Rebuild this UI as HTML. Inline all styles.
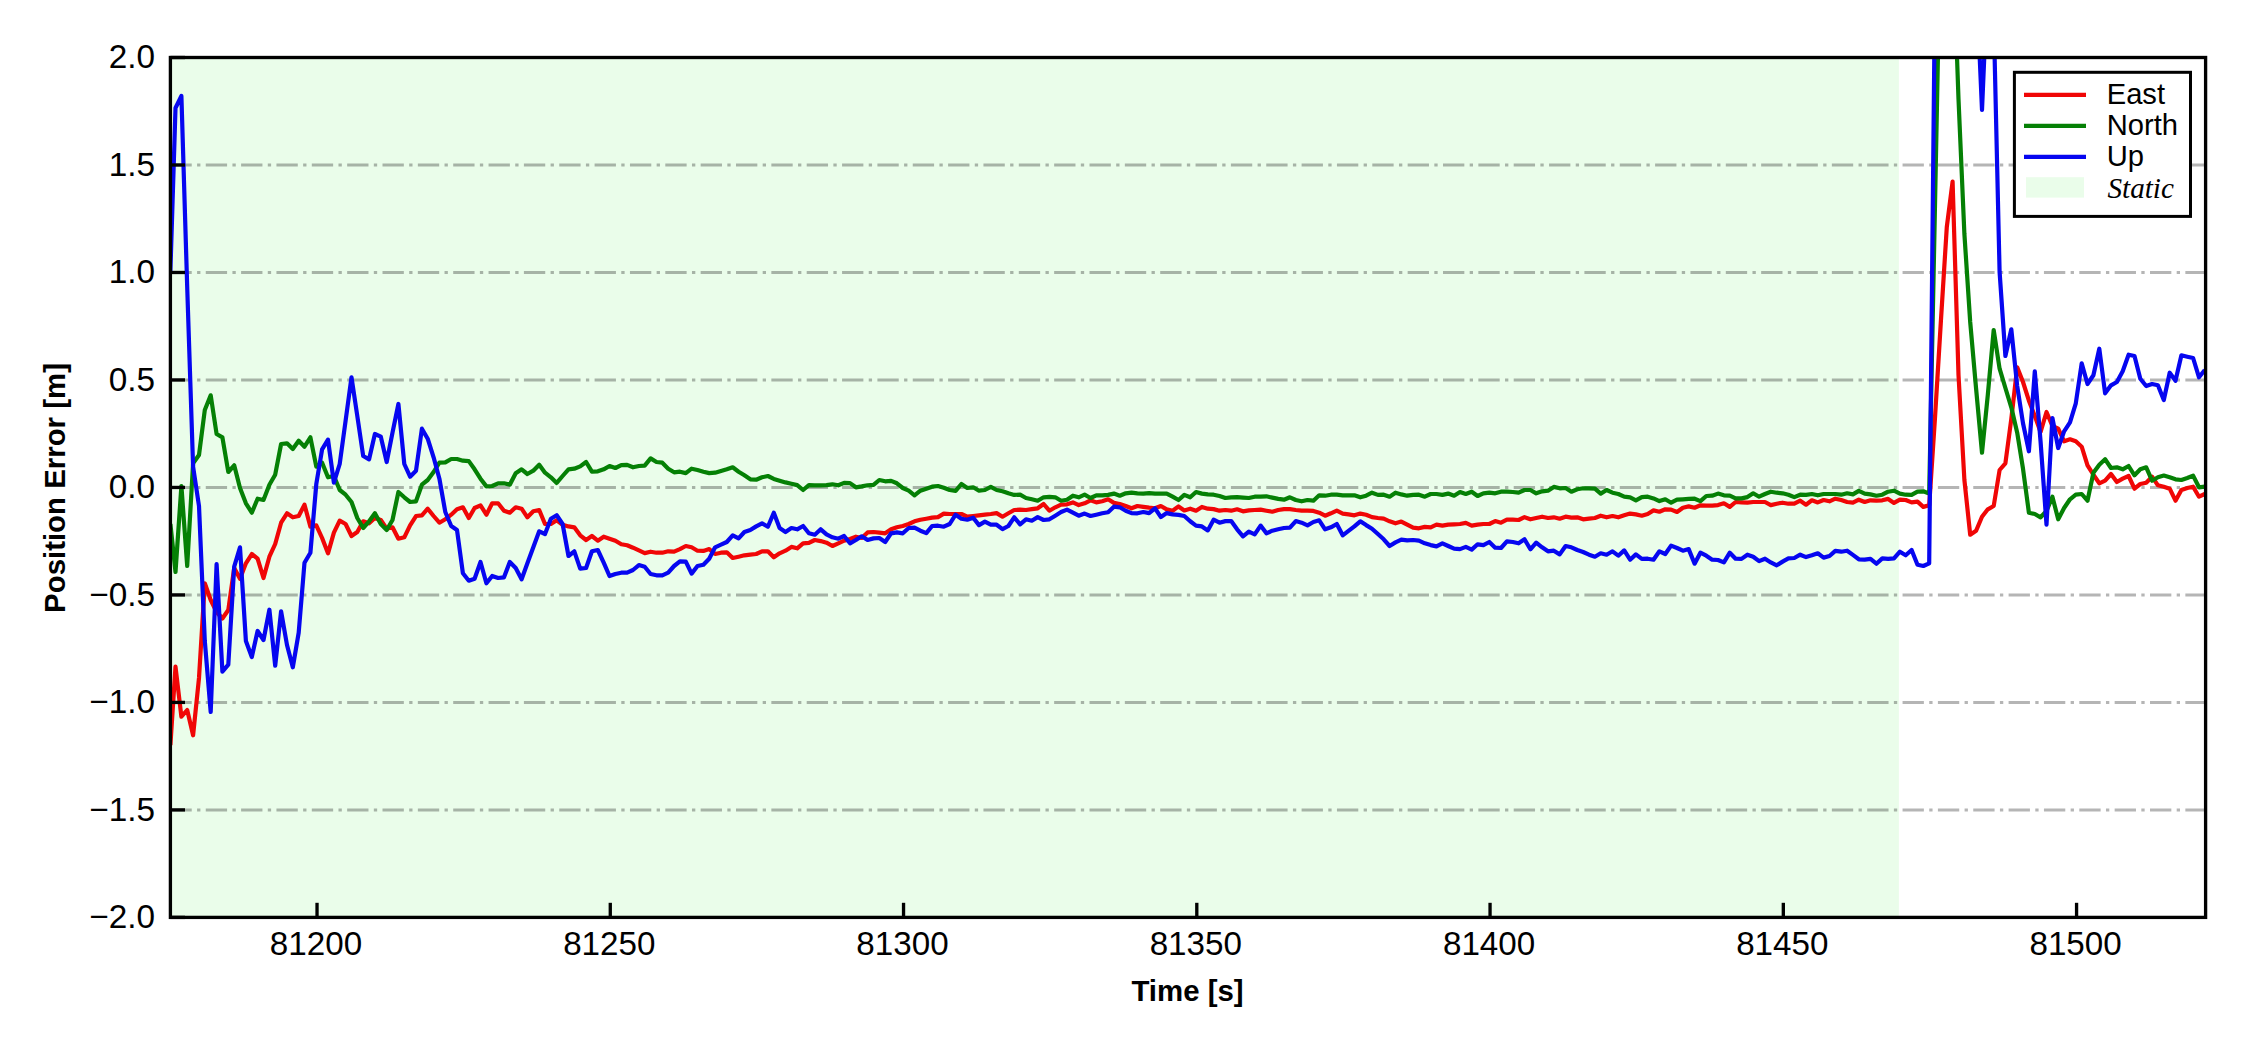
<!DOCTYPE html><html><head><meta charset="utf-8"><title>Position Error</title>
<style>html,body{margin:0;padding:0;background:#fff}svg{display:block}text{font-family:"Liberation Sans",sans-serif;fill:#000}.b{font-weight:bold}.s{font-family:"Liberation Serif",serif;font-style:italic}</style></head><body>
<svg width="2250" height="1050" viewBox="0 0 2250 1050">
<rect width="2250" height="1050" fill="#fff"/>
<defs><clipPath id="c"><rect x="170.4" y="57.5" width="2035.2" height="859.9"/></clipPath></defs>
<rect x="170.4" y="57.5" width="1728.5" height="859.9" fill="#eafdea"/>
<line x1="170.4" y1="809.91" x2="2205.6" y2="809.91" stroke="#000" stroke-opacity="0.29" stroke-width="3.00" stroke-dasharray="21.34 5.34 3.33 5.34"/>
<line x1="170.4" y1="702.42" x2="2205.6" y2="702.42" stroke="#000" stroke-opacity="0.29" stroke-width="3.00" stroke-dasharray="21.34 5.34 3.33 5.34"/>
<line x1="170.4" y1="594.94" x2="2205.6" y2="594.94" stroke="#000" stroke-opacity="0.29" stroke-width="3.00" stroke-dasharray="21.34 5.34 3.33 5.34"/>
<line x1="170.4" y1="487.45" x2="2205.6" y2="487.45" stroke="#000" stroke-opacity="0.29" stroke-width="3.00" stroke-dasharray="21.34 5.34 3.33 5.34"/>
<line x1="170.4" y1="379.96" x2="2205.6" y2="379.96" stroke="#000" stroke-opacity="0.29" stroke-width="3.00" stroke-dasharray="21.34 5.34 3.33 5.34"/>
<line x1="170.4" y1="272.48" x2="2205.6" y2="272.48" stroke="#000" stroke-opacity="0.29" stroke-width="3.00" stroke-dasharray="21.34 5.34 3.33 5.34"/>
<line x1="170.4" y1="164.99" x2="2205.6" y2="164.99" stroke="#000" stroke-opacity="0.29" stroke-width="3.00" stroke-dasharray="21.34 5.34 3.33 5.34"/>
<g clip-path="url(#c)">
<polyline points="170.4,745.0 175.5,666.7 181.4,716.7 187.2,710.0 193.1,735.3 199.0,678.0 204.8,583.3 210.7,600.0 216.6,612.0 222.4,618.5 228.3,610.0 234.2,568.0 240.0,578.7 245.9,563.3 251.8,554.0 257.6,558.7 263.5,578.0 269.4,556.7 275.2,544.0 281.1,522.7 287.0,513.3 292.8,517.3 298.7,516.0 304.5,504.7 310.4,526.7 316.3,525.3 322.1,538.0 328.0,553.3 333.9,532.7 339.7,520.7 345.6,524.0 351.5,536.0 357.3,532.0 363.2,521.3 369.1,523.3 374.9,518.0 380.8,520.0 386.7,528.7 392.5,527.3 398.4,538.7 404.3,537.3 410.1,525.3 416.0,516.0 421.9,515.3 427.7,508.7 433.6,516.0 439.4,522.7 445.3,519.3 451.2,514.7 457.0,509.3 462.9,507.3 468.8,518.0 474.6,508.0 480.5,505.3 486.4,514.7 492.2,503.3 498.1,503.3 504.0,510.7 509.8,512.7 515.7,507.3 521.6,508.7 527.4,517.3 533.3,511.3 539.2,510.0 545.0,524.0 550.9,524.0 556.7,520.3 562.6,524.7 568.5,526.4 574.3,527.3 580.2,535.3 586.1,540.0 591.9,536.0 597.8,540.7 603.7,536.7 609.5,538.7 615.4,540.7 621.3,544.3 627.1,545.3 633.0,547.7 638.9,550.4 644.7,553.1 650.6,551.7 656.5,552.7 662.3,552.7 668.2,551.3 674.1,551.7 679.9,549.1 685.8,546.0 691.6,547.3 697.5,550.7 703.4,550.9 709.2,549.1 715.1,554.0 721.0,552.7 726.8,552.3 732.7,558.0 738.6,556.7 744.4,555.3 750.3,554.7 756.2,554.0 762.0,551.3 767.9,551.3 773.8,557.3 779.6,553.3 785.5,550.7 791.4,546.9 797.2,548.3 803.1,543.3 808.9,542.9 814.8,540.0 820.7,541.1 826.5,542.7 832.4,546.0 838.3,543.3 844.1,540.7 850.0,538.9 855.9,536.7 861.7,538.0 867.6,532.4 873.5,532.0 879.3,532.7 885.2,533.3 891.1,529.3 896.9,527.3 902.8,526.0 908.7,524.0 914.5,521.3 920.4,519.7 926.3,518.7 932.1,517.6 938.0,517.1 943.8,513.6 949.7,514.0 955.6,514.0 961.4,514.0 967.3,516.7 973.2,516.0 979.0,515.3 984.9,514.7 990.8,514.0 996.6,513.1 1002.5,516.7 1008.4,513.3 1014.2,510.0 1020.1,509.7 1026.0,510.0 1031.8,509.1 1037.7,508.3 1043.6,504.0 1049.4,510.7 1055.3,507.3 1061.1,504.7 1067.0,504.3 1072.9,502.4 1078.7,505.1 1084.6,503.3 1090.5,500.3 1096.3,502.4 1102.2,501.3 1108.1,499.3 1113.9,502.9 1119.8,504.0 1125.7,506.0 1131.5,508.3 1137.4,506.0 1143.3,506.9 1149.1,507.7 1155.0,508.3 1160.9,506.0 1166.7,509.3 1172.6,510.7 1178.5,506.4 1184.3,510.4 1190.2,508.7 1196.0,510.7 1201.9,506.9 1207.8,508.7 1213.6,509.1 1219.5,510.7 1225.4,510.0 1231.2,510.7 1237.1,509.3 1243.0,511.3 1248.8,510.4 1254.7,510.0 1260.6,509.6 1266.4,510.7 1272.3,511.7 1278.2,510.0 1284.0,509.1 1289.9,509.1 1295.8,510.0 1301.6,510.7 1307.5,510.7 1313.4,510.9 1319.2,512.7 1325.1,515.7 1330.9,513.3 1336.8,510.7 1342.7,513.6 1348.5,514.4 1354.4,515.3 1360.3,513.6 1366.1,514.7 1372.0,517.1 1377.9,518.0 1383.7,518.7 1389.6,521.3 1395.5,523.3 1401.3,521.6 1407.2,524.7 1413.1,527.7 1418.9,528.3 1424.8,526.9 1430.7,527.3 1436.5,524.7 1442.4,525.6 1448.2,524.7 1454.1,524.3 1460.0,524.0 1465.8,522.9 1471.7,525.6 1477.6,524.7 1483.4,524.0 1489.3,524.0 1495.2,521.1 1501.0,522.7 1506.9,519.7 1512.8,519.7 1518.6,520.0 1524.5,517.1 1530.4,519.3 1536.2,518.0 1542.1,516.7 1548.0,518.0 1553.8,517.3 1559.7,518.7 1565.6,516.7 1571.4,517.6 1577.3,517.3 1583.1,519.3 1589.0,518.7 1594.9,518.0 1600.7,515.7 1606.6,517.3 1612.5,516.0 1618.3,517.3 1624.2,515.3 1630.1,513.6 1635.9,514.4 1641.8,515.7 1647.7,514.0 1653.5,510.4 1659.4,511.7 1665.3,509.3 1671.1,509.6 1677.0,512.0 1682.9,507.7 1688.7,506.4 1694.6,507.7 1700.4,505.3 1706.3,505.6 1712.2,505.6 1718.0,505.1 1723.9,503.3 1729.8,506.9 1735.6,502.0 1741.5,502.4 1747.4,502.7 1753.2,502.0 1759.1,502.0 1765.0,502.0 1770.8,505.1 1776.7,503.7 1782.6,502.7 1788.4,503.7 1794.3,503.7 1800.2,500.7 1806.0,504.7 1811.9,500.3 1817.8,502.4 1823.6,500.0 1829.5,501.3 1835.3,498.7 1841.2,500.0 1847.1,502.0 1852.9,502.7 1858.8,499.7 1864.7,502.0 1870.5,500.3 1876.4,500.7 1882.3,500.3 1888.1,498.9 1894.0,502.9 1899.9,499.7 1905.7,500.0 1911.6,502.4 1917.5,501.6 1923.3,506.9 1929.2,505.3 1935.1,416.0 1940.9,321.0 1946.8,227.0 1952.6,181.5 1958.5,375.0 1964.4,480.0 1970.2,534.7 1976.1,530.7 1982.0,516.7 1987.8,509.3 1993.7,506.0 1999.6,470.0 2005.4,463.3 2011.3,419.0 2017.2,367.3 2023.0,382.0 2028.9,400.7 2034.8,416.0 2040.6,432.0 2046.5,412.0 2052.4,426.0 2058.2,428.7 2064.1,441.3 2070.0,439.3 2075.8,441.3 2081.7,446.7 2087.5,465.3 2093.4,474.7 2099.3,483.3 2105.1,480.7 2111.0,474.0 2116.9,482.0 2122.7,478.7 2128.6,476.0 2134.5,488.7 2140.3,484.0 2146.2,482.7 2152.1,476.7 2157.9,485.3 2163.8,486.7 2169.7,488.7 2175.5,500.7 2181.4,490.0 2187.3,488.0 2193.1,486.7 2199.0,496.7 2204.8,494.0" fill="none" stroke="#f00606" stroke-width="4.2" stroke-linejoin="round" stroke-linecap="butt"/>
<polyline points="170.4,524.0 175.5,572.0 181.4,486.0 187.2,566.0 193.1,463.3 199.0,455.0 204.8,410.0 210.7,395.3 216.6,434.0 222.4,437.3 228.3,472.0 234.2,465.3 240.0,488.0 245.9,503.3 251.8,512.7 257.6,498.7 263.5,500.0 269.4,484.7 275.2,474.7 281.1,444.0 287.0,443.3 292.8,449.0 298.7,440.7 304.5,446.7 310.4,437.3 316.3,466.7 322.1,462.7 328.0,477.3 333.9,476.0 339.7,490.0 345.6,494.7 351.5,502.0 357.3,518.0 363.2,528.0 369.1,521.3 374.9,513.3 380.8,524.0 386.7,530.0 392.5,520.0 398.4,492.0 404.3,497.3 410.1,502.0 416.0,501.3 421.9,484.7 427.7,480.0 433.6,472.0 439.4,462.7 445.3,462.4 451.2,459.0 457.0,459.0 462.9,460.7 468.8,461.1 474.6,469.3 480.5,478.7 486.4,486.4 492.2,486.0 498.1,483.3 504.0,483.3 509.8,484.7 515.7,473.3 521.6,469.3 527.4,474.0 533.3,470.7 539.2,464.7 545.0,472.7 550.9,477.3 556.7,482.9 562.6,476.0 568.5,469.3 574.3,468.7 580.2,466.4 586.1,462.0 591.9,471.7 597.8,471.3 603.7,469.3 609.5,466.0 615.4,468.0 621.3,465.1 627.1,464.9 633.0,467.3 638.9,466.0 644.7,465.6 650.6,458.4 656.5,462.0 662.3,462.7 668.2,468.7 674.1,472.3 679.9,471.7 685.8,473.1 691.6,468.7 697.5,470.0 703.4,471.7 709.2,473.1 715.1,472.7 721.0,470.9 726.8,469.3 732.7,467.3 738.6,471.7 744.4,475.3 750.3,479.3 756.2,479.7 762.0,477.3 767.9,476.0 773.8,478.9 779.6,480.7 785.5,482.4 791.4,483.7 797.2,485.1 803.1,490.0 808.9,485.1 814.8,485.3 820.7,485.3 826.5,485.1 832.4,484.3 838.3,485.3 844.1,482.9 850.0,483.1 855.9,487.3 861.7,486.4 867.6,485.3 873.5,484.9 879.3,480.0 885.2,481.3 891.1,480.9 896.9,483.3 902.8,488.0 908.7,490.7 914.5,495.3 920.4,490.7 926.3,488.7 932.1,486.7 938.0,486.0 943.8,487.7 949.7,490.0 955.6,490.9 961.4,484.0 967.3,488.0 973.2,487.3 979.0,490.7 984.9,490.0 990.8,486.9 996.6,490.0 1002.5,491.3 1008.4,493.3 1014.2,494.9 1020.1,494.7 1026.0,498.0 1031.8,499.3 1037.7,500.7 1043.6,497.3 1049.4,496.9 1055.3,497.3 1061.1,500.7 1067.0,499.7 1072.9,495.7 1078.7,497.3 1084.6,494.7 1090.5,498.0 1096.3,495.3 1102.2,495.3 1108.1,494.9 1113.9,493.6 1119.8,495.7 1125.7,493.3 1131.5,492.7 1137.4,493.3 1143.3,493.6 1149.1,493.1 1155.0,493.6 1160.9,493.6 1166.7,493.6 1172.6,496.7 1178.5,500.0 1184.3,494.9 1190.2,497.3 1196.0,492.0 1201.9,493.6 1207.8,494.4 1213.6,494.7 1219.5,496.0 1225.4,498.0 1231.2,497.3 1237.1,497.1 1243.0,497.6 1248.8,498.0 1254.7,496.7 1260.6,496.7 1266.4,496.3 1272.3,497.6 1278.2,498.9 1284.0,499.7 1289.9,497.3 1295.8,500.0 1301.6,501.3 1307.5,500.0 1313.4,500.7 1319.2,495.3 1325.1,495.7 1330.9,494.7 1336.8,494.7 1342.7,495.3 1348.5,495.3 1354.4,495.3 1360.3,497.3 1366.1,495.7 1372.0,492.7 1377.9,494.9 1383.7,494.7 1389.6,496.7 1395.5,492.7 1401.3,494.4 1407.2,495.7 1413.1,494.9 1418.9,494.7 1424.8,496.7 1430.7,494.0 1436.5,494.0 1442.4,494.9 1448.2,493.6 1454.1,495.7 1460.0,492.0 1465.8,494.0 1471.7,491.7 1477.6,496.0 1483.4,493.3 1489.3,492.7 1495.2,493.3 1501.0,491.7 1506.9,491.7 1512.8,492.0 1518.6,492.7 1524.5,490.0 1530.4,490.0 1536.2,493.3 1542.1,491.3 1548.0,490.7 1553.8,486.9 1559.7,488.3 1565.6,488.0 1571.4,491.7 1577.3,489.3 1583.1,488.3 1589.0,488.3 1594.9,488.7 1600.7,493.6 1606.6,490.0 1612.5,492.7 1618.3,494.0 1624.2,496.7 1630.1,497.3 1635.9,500.3 1641.8,497.1 1647.7,496.7 1653.5,498.4 1659.4,501.1 1665.3,499.3 1671.1,502.7 1677.0,499.7 1682.9,499.3 1688.7,498.9 1694.6,498.7 1700.4,501.1 1706.3,496.0 1712.2,495.7 1718.0,493.6 1723.9,495.3 1729.8,495.7 1735.6,498.4 1741.5,498.4 1747.4,497.1 1753.2,493.3 1759.1,496.7 1765.0,494.0 1770.8,491.7 1776.7,492.7 1782.6,493.3 1788.4,494.7 1794.3,497.1 1800.2,494.7 1806.0,494.9 1811.9,494.0 1817.8,495.3 1823.6,494.0 1829.5,494.0 1835.3,494.0 1841.2,494.7 1847.1,493.3 1852.9,494.4 1858.8,490.9 1864.7,493.6 1870.5,494.4 1876.4,495.7 1882.3,494.7 1888.1,491.7 1894.0,490.7 1899.9,493.6 1905.7,494.7 1911.6,494.9 1917.5,491.7 1923.3,491.3 1929.2,493.6 1935.1,200.0 1940.9,-93.0 1946.8,-70.0 1952.6,-67.0 1958.5,99.0 1964.4,234.0 1970.2,322.0 1976.1,388.7 1982.0,452.7 1987.8,395.0 1993.7,330.0 1999.6,368.7 2005.4,388.0 2011.3,407.3 2017.2,432.7 2023.0,468.7 2028.9,512.7 2034.8,514.0 2040.6,517.3 2046.5,511.0 2052.4,496.7 2058.2,519.3 2064.1,508.0 2070.0,499.3 2075.8,494.7 2081.7,494.0 2087.5,500.7 2093.4,472.7 2099.3,464.7 2105.1,459.3 2111.0,468.0 2116.9,467.3 2122.7,469.3 2128.6,466.0 2134.5,475.3 2140.3,469.3 2146.2,467.3 2152.1,480.7 2157.9,477.3 2163.8,475.6 2169.7,477.3 2175.5,479.3 2181.4,480.0 2187.3,478.0 2193.1,475.6 2199.0,487.3 2204.8,486.7" fill="none" stroke="#058005" stroke-width="4.2" stroke-linejoin="round" stroke-linecap="butt"/>
<polyline points="170.4,271.0 175.5,108.0 181.4,96.0 187.2,287.0 193.1,466.7 199.0,506.0 204.8,641.0 210.7,712.0 216.6,564.0 222.4,671.6 228.3,664.7 234.2,566.7 240.0,547.3 245.9,641.0 251.8,657.0 257.6,631.0 263.5,640.0 269.4,609.7 275.2,665.7 281.1,611.3 287.0,645.0 292.8,667.3 298.7,632.7 304.5,562.7 310.4,552.7 316.3,484.0 322.1,449.3 328.0,439.6 333.9,482.7 339.7,464.0 345.6,420.7 351.5,377.3 357.3,416.0 363.2,456.0 369.1,459.3 374.9,434.0 380.8,436.7 386.7,462.0 392.5,432.7 398.4,404.0 404.3,464.0 410.1,476.7 416.0,470.7 421.9,428.7 427.7,438.7 433.6,457.3 439.4,478.7 445.3,512.0 451.2,526.0 457.0,530.0 462.9,573.3 468.8,580.7 474.6,578.7 480.5,562.0 486.4,583.3 492.2,576.0 498.1,578.0 504.0,577.3 509.8,562.0 515.7,568.0 521.6,579.3 527.4,563.3 533.3,547.3 539.2,531.3 545.0,534.0 550.9,518.7 556.7,515.3 562.6,524.0 568.5,556.0 574.3,551.3 580.2,568.7 586.1,568.0 591.9,551.3 597.8,550.0 603.7,562.7 609.5,576.0 615.4,574.0 621.3,572.7 627.1,572.7 633.0,570.0 638.9,565.1 644.7,566.7 650.6,574.0 656.5,575.3 662.3,575.3 668.2,572.7 674.1,566.0 679.9,561.3 685.8,561.6 691.6,573.6 697.5,566.0 703.4,564.7 709.2,558.7 715.1,547.3 721.0,544.7 726.8,542.0 732.7,535.3 738.6,538.4 744.4,532.0 750.3,530.0 756.2,526.4 762.0,523.3 767.9,526.7 773.8,512.7 779.6,528.0 785.5,532.0 791.4,528.0 797.2,529.3 803.1,526.0 808.9,533.3 814.8,534.7 820.7,529.3 826.5,534.4 832.4,537.3 838.3,538.7 844.1,536.0 850.0,543.3 855.9,540.0 861.7,536.3 867.6,540.0 873.5,538.4 879.3,538.0 885.2,542.0 891.1,533.3 896.9,532.4 902.8,533.3 908.7,528.0 914.5,527.7 920.4,530.7 926.3,533.1 932.1,526.0 938.0,525.7 943.8,526.7 949.7,524.0 955.6,514.7 961.4,518.7 967.3,519.7 973.2,517.7 979.0,525.1 984.9,521.6 990.8,524.7 996.6,524.7 1002.5,529.1 1008.4,526.0 1014.2,517.3 1020.1,524.3 1026.0,519.3 1031.8,520.7 1037.7,517.1 1043.6,520.0 1049.4,519.3 1055.3,515.7 1061.1,512.0 1067.0,509.6 1072.9,512.7 1078.7,515.7 1084.6,513.6 1090.5,516.0 1096.3,514.7 1102.2,513.3 1108.1,512.3 1113.9,506.7 1119.8,507.3 1125.7,510.7 1131.5,513.1 1137.4,513.3 1143.3,512.0 1149.1,513.1 1155.0,508.3 1160.9,517.1 1166.7,513.1 1172.6,514.4 1178.5,514.9 1184.3,516.0 1190.2,521.3 1196.0,525.6 1201.9,526.4 1207.8,530.4 1213.6,519.7 1219.5,522.7 1225.4,521.1 1231.2,521.1 1237.1,529.3 1243.0,536.3 1248.8,531.7 1254.7,534.4 1260.6,525.6 1266.4,533.3 1272.3,530.7 1278.2,529.3 1284.0,528.0 1289.9,527.7 1295.8,521.1 1301.6,522.7 1307.5,525.3 1313.4,522.0 1319.2,520.3 1325.1,529.3 1330.9,527.3 1336.8,524.0 1342.7,535.3 1348.5,530.9 1354.4,526.4 1360.3,521.3 1366.1,525.1 1372.0,528.7 1377.9,534.0 1383.7,539.3 1389.6,546.0 1395.5,542.4 1401.3,539.7 1407.2,540.3 1413.1,540.0 1418.9,540.7 1424.8,543.3 1430.7,545.1 1436.5,546.4 1442.4,543.3 1448.2,546.0 1454.1,548.7 1460.0,549.1 1465.8,546.9 1471.7,549.6 1477.6,544.3 1483.4,545.1 1489.3,542.0 1495.2,547.7 1501.0,548.0 1506.9,541.3 1512.8,542.0 1518.6,543.3 1524.5,539.3 1530.4,549.3 1536.2,542.7 1542.1,547.3 1548.0,551.3 1553.8,550.7 1559.7,554.4 1565.6,546.0 1571.4,547.3 1577.3,550.0 1583.1,552.0 1589.0,554.7 1594.9,556.7 1600.7,553.3 1606.6,554.7 1612.5,551.3 1618.3,555.7 1624.2,550.4 1630.1,559.7 1635.9,554.4 1641.8,558.9 1647.7,558.7 1653.5,559.7 1659.4,551.3 1665.3,554.0 1671.1,545.6 1677.0,548.0 1682.9,550.7 1688.7,549.1 1694.6,563.7 1700.4,552.7 1706.3,555.7 1712.2,559.7 1718.0,560.0 1723.9,562.4 1729.8,552.7 1735.6,558.7 1741.5,558.9 1747.4,554.7 1753.2,556.7 1759.1,561.1 1765.0,558.7 1770.8,562.4 1776.7,565.3 1782.6,561.6 1788.4,558.4 1794.3,558.0 1800.2,554.7 1806.0,557.1 1811.9,555.3 1817.8,553.3 1823.6,557.6 1829.5,556.0 1835.3,550.9 1841.2,551.7 1847.1,550.7 1852.9,554.9 1858.8,559.3 1864.7,559.7 1870.5,558.9 1876.4,563.7 1882.3,558.4 1888.1,558.9 1894.0,558.4 1899.9,551.7 1905.7,555.3 1911.6,550.0 1917.5,564.7 1923.3,566.0 1929.2,563.3 1935.1,-25.0 1940.9,-25.0 1946.8,-25.0 1952.6,-25.0 1958.5,-25.0 1964.4,-25.0 1970.2,-25.0 1976.1,-25.0 1982.0,110.0 1987.8,-25.0 1993.7,17.0 1999.6,272.0 2005.4,356.0 2011.3,329.3 2017.2,386.0 2023.0,423.3 2028.9,451.3 2034.8,371.3 2040.6,442.0 2046.5,524.7 2052.4,418.0 2058.2,448.0 2064.1,431.3 2070.0,422.4 2075.8,403.3 2081.7,363.3 2087.5,384.0 2093.4,375.3 2099.3,348.7 2105.1,393.3 2111.0,385.3 2116.9,382.0 2122.7,371.3 2128.6,354.7 2134.5,356.0 2140.3,378.7 2146.2,386.0 2152.1,384.0 2157.9,385.3 2163.8,400.0 2169.7,372.7 2175.5,380.7 2181.4,355.3 2187.3,356.7 2193.1,358.0 2199.0,377.3 2204.8,370.0" fill="none" stroke="#0606f0" stroke-width="4.2" stroke-linejoin="round" stroke-linecap="butt"/>
</g>
<line x1="170.4" y1="917.40" x2="185.0" y2="917.40" stroke="#000" stroke-width="3.33"/>
<text x="155.1" y="928.1" font-size="33.33" text-anchor="end">−2.0</text>
<line x1="170.4" y1="809.91" x2="185.0" y2="809.91" stroke="#000" stroke-width="3.33"/>
<text x="155.1" y="820.6" font-size="33.33" text-anchor="end">−1.5</text>
<line x1="170.4" y1="702.42" x2="185.0" y2="702.42" stroke="#000" stroke-width="3.33"/>
<text x="155.1" y="713.1" font-size="33.33" text-anchor="end">−1.0</text>
<line x1="170.4" y1="594.94" x2="185.0" y2="594.94" stroke="#000" stroke-width="3.33"/>
<text x="155.1" y="605.6" font-size="33.33" text-anchor="end">−0.5</text>
<line x1="170.4" y1="487.45" x2="185.0" y2="487.45" stroke="#000" stroke-width="3.33"/>
<text x="155.1" y="498.1" font-size="33.33" text-anchor="end">0.0</text>
<line x1="170.4" y1="379.96" x2="185.0" y2="379.96" stroke="#000" stroke-width="3.33"/>
<text x="155.1" y="390.7" font-size="33.33" text-anchor="end">0.5</text>
<line x1="170.4" y1="272.48" x2="185.0" y2="272.48" stroke="#000" stroke-width="3.33"/>
<text x="155.1" y="283.2" font-size="33.33" text-anchor="end">1.0</text>
<line x1="170.4" y1="164.99" x2="185.0" y2="164.99" stroke="#000" stroke-width="3.33"/>
<text x="155.1" y="175.7" font-size="33.33" text-anchor="end">1.5</text>
<line x1="170.4" y1="57.50" x2="185.0" y2="57.50" stroke="#000" stroke-width="3.33"/>
<text x="155.1" y="68.2" font-size="33.33" text-anchor="end">2.0</text>
<line x1="317.03" y1="917.4" x2="317.03" y2="902.8" stroke="#000" stroke-width="3.33"/>
<text x="316.0" y="955.3" font-size="33.2" text-anchor="middle">81200</text>
<line x1="610.28" y1="917.4" x2="610.28" y2="902.8" stroke="#000" stroke-width="3.33"/>
<text x="609.3" y="955.3" font-size="33.2" text-anchor="middle">81250</text>
<line x1="903.54" y1="917.4" x2="903.54" y2="902.8" stroke="#000" stroke-width="3.33"/>
<text x="902.5" y="955.3" font-size="33.2" text-anchor="middle">81300</text>
<line x1="1196.80" y1="917.4" x2="1196.80" y2="902.8" stroke="#000" stroke-width="3.33"/>
<text x="1195.8" y="955.3" font-size="33.2" text-anchor="middle">81350</text>
<line x1="1490.05" y1="917.4" x2="1490.05" y2="902.8" stroke="#000" stroke-width="3.33"/>
<text x="1489.1" y="955.3" font-size="33.2" text-anchor="middle">81400</text>
<line x1="1783.31" y1="917.4" x2="1783.31" y2="902.8" stroke="#000" stroke-width="3.33"/>
<text x="1782.3" y="955.3" font-size="33.2" text-anchor="middle">81450</text>
<line x1="2076.57" y1="917.4" x2="2076.57" y2="902.8" stroke="#000" stroke-width="3.33"/>
<text x="2075.6" y="955.3" font-size="33.2" text-anchor="middle">81500</text>
<rect x="170.4" y="57.5" width="2035.2" height="859.9" fill="none" stroke="#000" stroke-width="3.33"/>
<text class="b" x="1187.5" y="1001.2" font-size="29.4" text-anchor="middle">Time [s]</text>
<text class="b" transform="translate(64.8,488) rotate(-90)" font-size="29.4" text-anchor="middle">Position Error [m]</text>
<rect x="2014.4" y="72.3" width="176.1" height="144.1" fill="#fff" stroke="#000" stroke-width="3"/>
<line x1="2024" y1="94.9" x2="2086" y2="94.9" stroke="#f00606" stroke-width="4.2"/>
<text x="2106.7" y="104.4" font-size="29.17">East</text>
<line x1="2024" y1="125.9" x2="2086" y2="125.9" stroke="#058005" stroke-width="4.2"/>
<text x="2106.7" y="135.4" font-size="29.17">North</text>
<line x1="2024" y1="156.9" x2="2086" y2="156.9" stroke="#0606f0" stroke-width="4.2"/>
<text x="2106.7" y="166.4" font-size="29.17">Up</text>
<rect x="2026" y="177.2" width="58" height="20.4" fill="#eafdea"/>
<text class="s" x="2107.5" y="197.5" font-size="29.17">Static</text>
</svg></body></html>
